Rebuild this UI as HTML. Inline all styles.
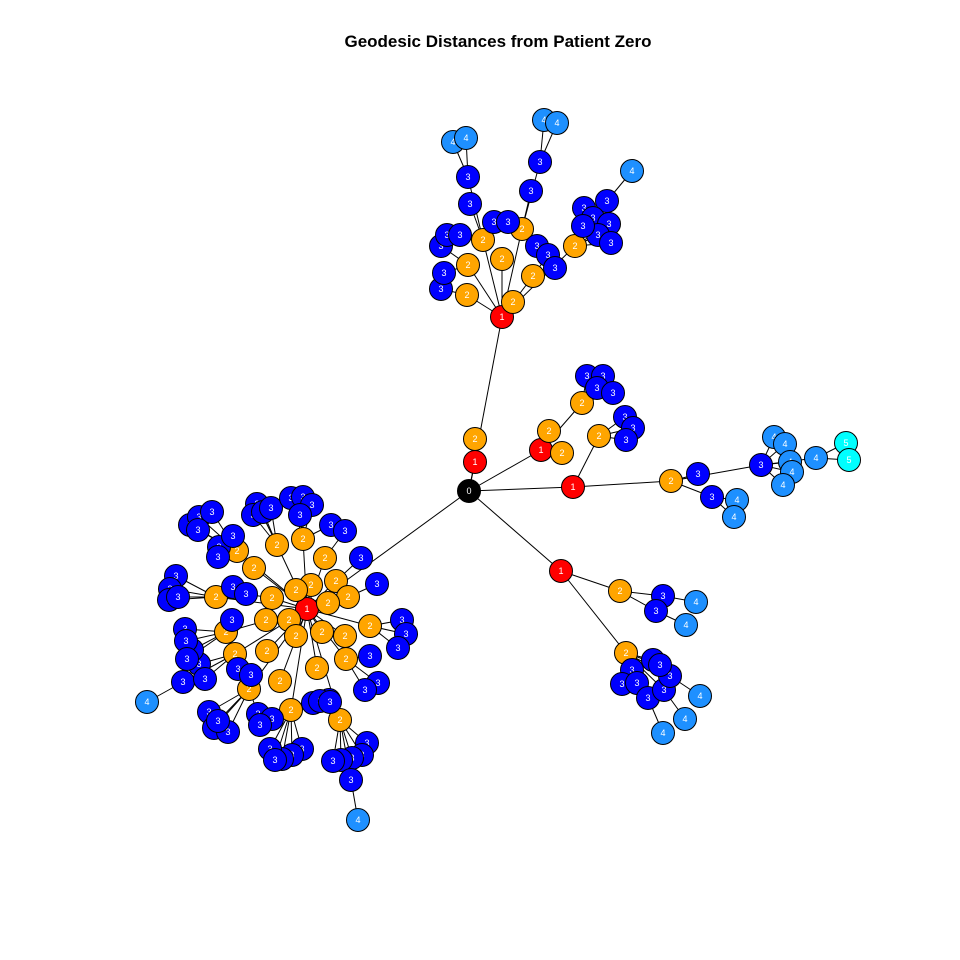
<!DOCTYPE html>
<html><head><meta charset="utf-8"><style>
html,body{margin:0;padding:0;background:#fff;}
svg{display:block;}
</style></head><body>
<svg id="chart" width="960" height="960" viewBox="0 0 960 960" xmlns="http://www.w3.org/2000/svg">
<rect width="960" height="960" fill="#fff"/>
<text x="498" y="47" text-anchor="middle" font-family="Liberation Sans, sans-serif" font-weight="bold" font-size="17">Geodesic Distances from Patient Zero</text>
<g id="edges"></g>
<g id="nodes"></g>
</svg>
<script>
const nodeX = [469,475,502,541,573,561,307,
475,513,467,468,502,533,483,522,575,
441,444,441,447,460,494,508,470,468,531,540,537,548,555,584,607,593,609,598,611,583,
453,466,544,557,632,
562,549,582,599,
587,603,597,613,625,633,626,
671,698,712,761,
774,785,790,792,783,816,737,734,
846,849,
620,663,656,696,686,
626,653,632,622,637,648,664,670,660,700,685,663,
237,277,303,325,336,311,296,348,254,216,272,289,266,226,235,267,296,322,345,370,346,317,280,249,291,340,328,
361,377,402,406,398,370,378,365,329,313,367,362,352,341,333,351,302,292,282,270,275,258,272,260,209,214,228,218,183,199,205,192,185,186,187,176,170,169,178,190,199,212,198,219,218,233,257,253,263,271,291,303,312,300,331,345,233,246,232,238,251,320,330,
147,358];
const nodeY = [491,462,317,450,487,571,609,
439,302,295,265,259,276,240,229,246,
289,273,246,235,235,222,222,204,177,191,162,246,255,268,208,201,218,224,235,243,226,
142,138,120,123,171,
453,431,403,436,
376,376,388,393,417,428,440,
481,474,497,465,
437,444,462,472,485,458,500,517,
443,460,
591,596,611,602,625,
653,660,670,684,683,698,690,676,665,696,719,733,
551,545,539,558,581,585,590,597,568,597,598,620,620,632,654,651,636,632,636,626,659,668,681,689,710,720,603,
558,584,620,634,648,656,683,690,700,703,743,755,758,760,761,780,749,755,759,749,760,714,719,725,712,728,732,721,682,664,679,650,629,641,659,576,589,600,597,525,517,512,530,547,557,536,504,515,512,508,498,497,505,515,525,531,587,594,620,669,675,701,702,
702,820];
const nodeDist = [0,1,1,1,1,1,1,
2,2,2,2,2,2,2,2,2,
3,3,3,3,3,3,3,3,3,3,3,3,3,3,3,3,3,3,3,3,3,
4,4,4,4,4,
2,2,2,2,
3,3,3,3,3,3,3,
2,3,3,3,
4,4,4,4,4,4,4,4,
5,5,
2,3,3,4,4,
2,3,3,3,3,3,3,3,3,4,4,4,
2,2,2,2,2,2,2,2,2,2,2,2,2,2,2,2,2,2,2,2,2,2,2,2,2,2,2,
3,3,3,3,3,3,3,3,3,3,3,3,3,3,3,3,3,3,3,3,3,3,3,3,3,3,3,3,3,3,3,3,3,3,3,3,3,3,3,3,3,3,3,3,3,3,3,3,3,3,3,3,3,3,3,3,3,3,3,3,3,3,3,
4,4];
const colors = ["#000000","#ff0000","#ffa500","#0000ff","#1e90ff","#00ffff"];
const NS = "http://www.w3.org/2000/svg";
const eg = document.getElementById('edges'), ng = document.getElementById('nodes');
const n = Math.min(nodeX.length, nodeY.length, nodeDist.length);
for (let i = 0; i < n; i++) {
  if (nodeDist[i] === 0) continue;
  let best = -1, bd = Infinity;
  for (let j = 0; j < n; j++) {
    if (nodeDist[j] !== nodeDist[i] - 1) continue;
    const d = (nodeX[i]-nodeX[j])**2 + (nodeY[i]-nodeY[j])**2;
    if (d < bd) { bd = d; best = j; }
  }
  if (best < 0) continue;
  const l = document.createElementNS(NS, 'line');
  l.setAttribute('x1', nodeX[best]); l.setAttribute('y1', nodeY[best]);
  l.setAttribute('x2', nodeX[i]); l.setAttribute('y2', nodeY[i]);
  l.setAttribute('stroke', '#000'); l.setAttribute('stroke-width', '1');
  
  
  eg.appendChild(l);
}
for (let i = 0; i < n; i++) {
  const g = document.createElementNS(NS, 'g');
  
  
  const c = document.createElementNS(NS, 'circle');
  c.setAttribute('cx', nodeX[i]); c.setAttribute('cy', nodeY[i]); c.setAttribute('r', 11.5);
  c.setAttribute('fill', colors[nodeDist[i]] || '#888'); c.setAttribute('stroke', '#000'); c.setAttribute('stroke-width', '1');
  
  
  const t = document.createElementNS(NS, 'text');
  t.setAttribute('x', nodeX[i]); t.setAttribute('y', nodeY[i] + 3);
  t.setAttribute('text-anchor', 'middle'); t.setAttribute('fill', '#fff');
  t.setAttribute('font-family', 'Liberation Sans, sans-serif'); t.setAttribute('font-size', '9');
  
  
  t.textContent = nodeDist[i];
  g.appendChild(c); g.appendChild(t); ng.appendChild(g);
}
</script>
</body></html>
